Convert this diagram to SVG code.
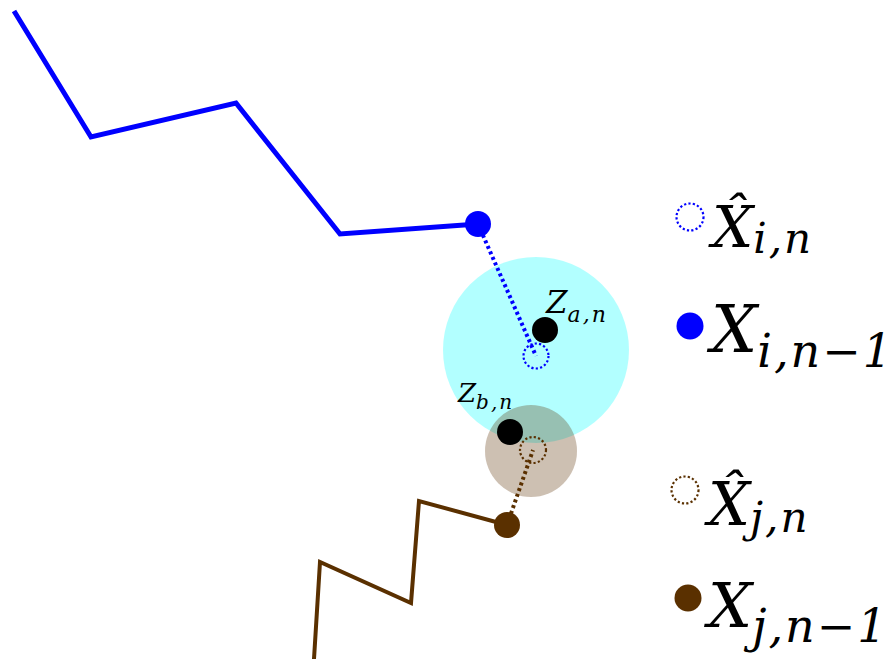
<svg xmlns="http://www.w3.org/2000/svg" width="895" height="659" viewBox="0 0 895 659">
<style>
.math{font-family:"DejaVu Serif","Liberation Serif",serif;font-style:italic;fill:#000}
.sub{letter-spacing:2px}
.blue{stroke:#0000FF;fill:none}
.brown{stroke:#5A3000;fill:none}
.dotline{stroke-width:4;stroke-dasharray:3 3}
.dotcirc{stroke-width:2.2;stroke-dasharray:2.2 2.2;fill:none}
</style>
<rect width="895" height="659" fill="#fff"/>
<g id="regions">
<circle id="region-a" cx="536" cy="350" r="93" fill="#00FFFF" fill-opacity="0.3"/>
<circle id="region-b" cx="531" cy="451" r="46" fill="#5A3000" fill-opacity="0.3"/>
</g>
<g id="connectors">
<polyline class="blue" stroke-width="5" stroke-linejoin="miter" points="14,11 91,137 236,103 340,234 478,224"/>
<polyline class="brown" stroke-width="4" points="314,659 320,562 411,603 419,501 507,525"/>
<line class="blue dotline" x1="478" y1="224" x2="536" y2="356"/>
<line class="brown dotline" x1="507" y1="525" x2="533" y2="450"/>
</g>
<g id="node-xi-prev"><circle cx="478" cy="224" r="13" fill="#0000FF"/></g>
<g id="node-xi-hat"><circle class="blue dotcirc" cx="536" cy="356" r="12.5"/></g>
<g id="node-za"><circle cx="545" cy="330" r="13" fill="#000"/>
<text class="math" x="546" y="313" font-size="31">Z<tspan class="sub" font-size="22" dy="9">a,n</tspan></text></g>
<g id="node-xj-hat"><circle class="brown dotcirc" cx="533" cy="450" r="13"/></g>
<g id="node-zb"><circle cx="510" cy="432" r="13" fill="#000"/>
<text class="math" x="458" y="402" font-size="26">Z<tspan class="sub" font-size="20" dy="7">b,n</tspan></text></g>
<g id="node-xj-prev"><circle cx="507" cy="525" r="13" fill="#5A3000"/></g>
<g id="legend">
<circle class="blue dotcirc" cx="690" cy="217" r="13.5"/>
<text class="math" x="712" y="247" font-size="58">X̂<tspan class="sub" font-size="42" dy="6">i,n</tspan></text>
<circle cx="690" cy="326" r="13.5" fill="#0000FF"/>
<text class="math" x="711" y="352" font-size="65">X<tspan class="sub" font-size="46" dy="15">i,n−1</tspan></text>
<circle class="brown dotcirc" cx="685" cy="490" r="13.5"/>
<text class="math" x="708" y="525" font-size="59">X̂<tspan class="sub" font-size="42" dy="7">j,n</tspan></text>
<circle cx="688" cy="598" r="13.5" fill="#5A3000"/>
<text class="math" x="708" y="627" font-size="62">X<tspan class="sub" font-size="46" dy="15">j,n−1</tspan></text>
</g>
</svg>
